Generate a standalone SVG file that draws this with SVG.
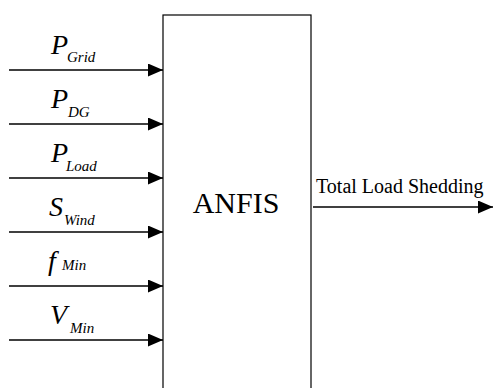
<svg xmlns="http://www.w3.org/2000/svg" width="493" height="388" viewBox="0 0 493 388">
<defs>
<marker id="ah" markerUnits="userSpaceOnUse" markerWidth="16" markerHeight="14" refX="15" refY="6.5" orient="auto">
<path d="M0,0 L15,6.5 L0,13 Z" fill="#000"/>
</marker>
</defs>
<rect width="493" height="388" fill="#fff"/>
<g id="anfis">
<rect x="163" y="15" width="148" height="400" fill="#fff" stroke="#000" stroke-width="1.2"/>
<text style="font-family:'Liberation Serif','Times New Roman',serif" x="236" y="213" font-size="30" text-anchor="middle">ANFIS</text>
</g>
<g id="connectors" stroke="#000" stroke-width="1.3" fill="none">
<line x1="9" y1="70" x2="163" y2="70" marker-end="url(#ah)"/>
<line x1="9" y1="124" x2="163" y2="124" marker-end="url(#ah)"/>
<line x1="9" y1="178" x2="163" y2="178" marker-end="url(#ah)"/>
<line x1="9" y1="232" x2="163" y2="232" marker-end="url(#ah)"/>
<line x1="9" y1="286" x2="163" y2="286" marker-end="url(#ah)"/>
<line x1="9" y1="340" x2="163" y2="340" marker-end="url(#ah)"/>
<line x1="313" y1="207" x2="493" y2="207" marker-end="url(#ah)"/>
</g>
<g id="labels">
<text style="font-family:'Liberation Serif','Times New Roman',serif;font-style:italic" x="51" y="54" font-size="28">P<tspan font-size="15" x="67" y="62">Grid</tspan></text>
<text style="font-family:'Liberation Serif','Times New Roman',serif;font-style:italic" x="51" y="108" font-size="28">P<tspan font-size="15" x="68" y="117">DG</tspan></text>
<text style="font-family:'Liberation Serif','Times New Roman',serif;font-style:italic" x="51" y="162" font-size="28">P<tspan font-size="15" x="66" y="171">Load</tspan></text>
<text style="font-family:'Liberation Serif','Times New Roman',serif;font-style:italic" x="49" y="216" font-size="28">S<tspan font-size="15" x="64" y="225">Wind</tspan></text>
<text style="font-family:'Liberation Serif','Times New Roman',serif;font-style:italic" x="48" y="270" font-size="28">f<tspan font-size="15" x="62" y="270">Min</tspan></text>
<text style="font-family:'Liberation Serif','Times New Roman',serif;font-style:italic" x="50" y="324" font-size="28">V<tspan font-size="15" x="70" y="333">Min</tspan></text>
<text style="font-family:'Liberation Serif','Times New Roman',serif" x="316" y="193" font-size="20">Total Load Shedding</text>
</g>
</svg>
